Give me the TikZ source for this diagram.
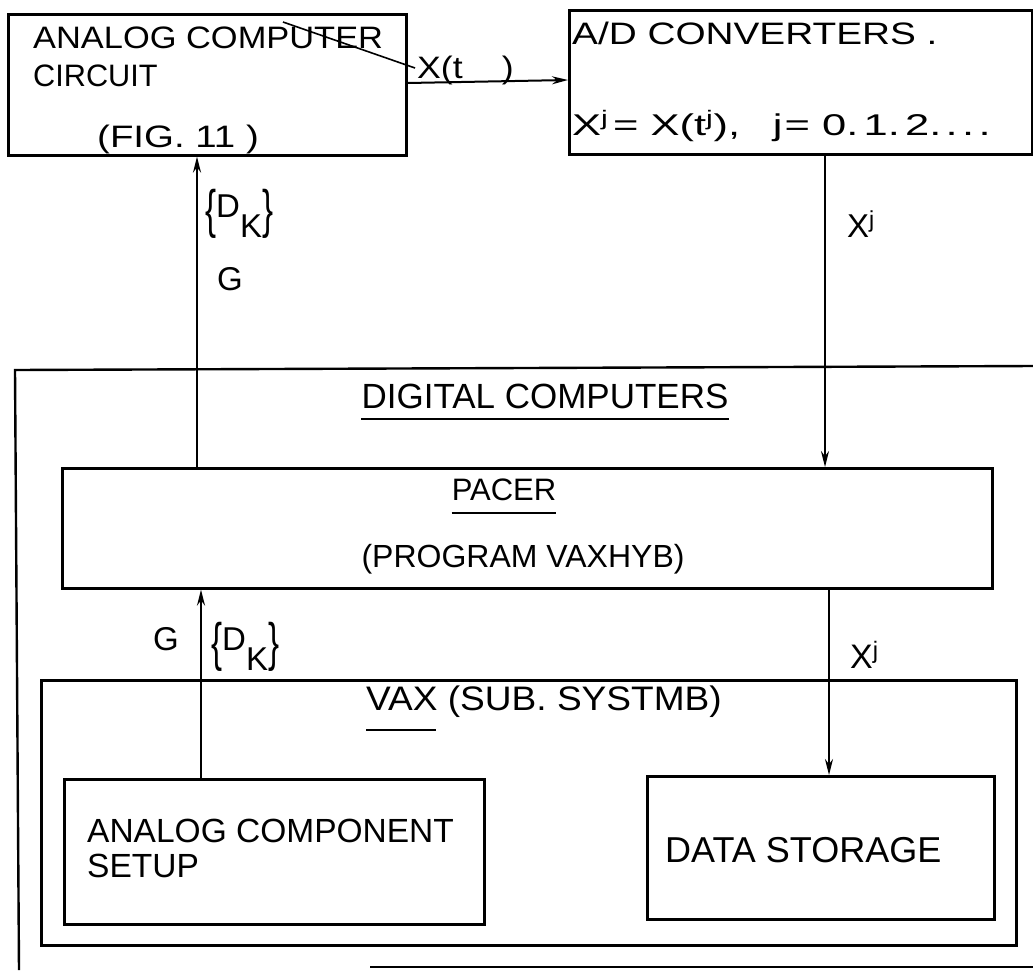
\documentclass[tikz,border=0pt]{standalone}
\usepackage{fontspec}
\setmainfont{Liberation Sans}
\usepackage{graphicx}
\usetikzlibrary{arrows.meta}
\newcommand{\hs}[2]{\scalebox{#1}[1]{#2}}
\newcommand{\tbl}{\raisebox{-0.32em}{\scalebox{1}[1.6]{\{}}}
\newcommand{\tbr}{\raisebox{-0.32em}{\scalebox{1}[1.6]{\}}}}
\newcommand{\dk}{\tbl D\raisebox{-0.62em}{K}\tbr}
\begin{document}
\begin{tikzpicture}[x=1pt,y=-1pt,
  box/.style={draw,line width=2.6pt,inner sep=0pt,anchor=north west},
  txt/.style={inner sep=0pt,font=\fontsize{#1}{#1}\selectfont},
  txt/.default=32,
  wire/.style={line width=2.4pt},
  arr/.style={line width=2pt,-{Stealth[length=16pt,width=8pt]}},
  uline/.style={line width=2.4pt}]
\useasboundingbox (0,0) rectangle (1033,970);
\fill[white] (0,0) rectangle (1033,970);

% boxes
\node[box,minimum width=398pt,minimum height=141pt] (acc) at (7,13) {};
\node[box,minimum width=463pt,minimum height=144pt] (adc) at (568,9) {};
\node[box,minimum width=930pt,minimum height=120pt] (pacer) at (61,467) {};
\node[box,minimum width=975pt,minimum height=265pt] (vax) at (40,679) {};
\node[box,minimum width=420pt,minimum height=145pt] (acs) at (63,778) {};
\node[box,minimum width=347pt,minimum height=143pt] (ds) at (646,775) {};

% digital computers enclosure (open to the right)
\coordinate (dtr) at (1033,366);
\coordinate (dtl) at (15,370);
\coordinate (dbl) at (19,970);
\coordinate (dbs) at (370,967);
\coordinate (dbr) at (1033,967);
\draw[wire] (dtr) -- (dtl) -- (dbl);
\draw[wire] (dbs) -- (dbr);

% columns
\coordinate (cl) at (197,0);
\coordinate (cr) at (825,0);
\coordinate (cl2) at (201,0);
\coordinate (cr2) at (829,0);

% texts
\node[txt=31,anchor=base west] (t1) at (33,48) {\hs{1.11}{ANALOG COMPUTER}};
\node[txt=31,anchor=base west] (t2) at (33,86) {\hs{0.99}{CIRCUIT}};
\node[txt=31,anchor=base west] (t3) at (97,147) {\hs{1.24}{(FIG. 11 )}};
\node[txt=31,anchor=base west] (xt) at (417,78) {\hs{1.15}{X(t\hspace{1.1em})}};
\node[txt=31,anchor=base west] (t4) at (572,44) {\hs{1.25}{A/D CONVERTERS .}};
\node[txt=30,anchor=base west] (t5) at (572,135) {\hs{1.45}{X\textsuperscript{j}\hspace{0.1em}= X(t\textsuperscript{j}),\hspace{0.75em}j\hspace{0.05em}= 0.\hspace{0.12em}1.\hspace{0.12em}2.\hspace{0.1em}.\hspace{0.1em}.\hspace{0.1em}.}};

\node[txt=33,anchor=base west] (dk1) at (205,217) {\dk};
\node[txt=33,anchor=base west] (g1) at (217,290) {G};
\node[txt=33,anchor=base west] (xj1) at (847,237) {X\textsuperscript{j}};

\node[txt=35,anchor=base] (dig) at (545,408) {DIGITAL COMPUTERS};
\draw[uline] (dig.south west |- 0,419) -- (dig.south east |- 0,419);
\node[txt=31,anchor=base] (pc) at (504,500) {PACER};
\draw[uline] (pc.south west |- 0,513) -- (pc.south east |- 0,513);
\node[txt=32,anchor=base] (prog) at (523,567) {(PROGRAM VAXHYB)};

\node[txt=33,anchor=base west] (g2) at (153,650) {G};
\node[txt=33,anchor=base west] (dk2) at (211,650) {\dk};
\node[txt=34,anchor=base west] (xj2) at (850,668) {X\textsuperscript{j}};

\node[txt=34,anchor=base west] (vaxt) at (366,710) {\hs{1.09}{VAX (SUB. SYSTMB)}};
\draw[uline] (366,730) -- (436,730);

\node[txt=33.5,anchor=base west] (acst1) at (87,842) {ANALOG COMPONENT};
\node[txt=33.5,anchor=base west] (acst2) at (87,877) {SETUP};
\node[txt=36,anchor=base west] (dst) at (665,862) {DATA STORAGE};

% connectors
\draw[arr] (acc.east |- 0,83) -- (adc.west |- 0,80);
\draw[line width=1.6pt] (283,22) -- (415,68);
\draw[arr] (pacer.north -| cl) -- (acc.south -| cl);
\draw[arr] (adc.south -| cr) -- (pacer.north -| cr);
\draw[arr] (acs.north -| cl2) -- (pacer.south -| cl2);
\draw[arr] (pacer.south -| cr2) -- (ds.north -| cr2);
\end{tikzpicture}
\end{document}
